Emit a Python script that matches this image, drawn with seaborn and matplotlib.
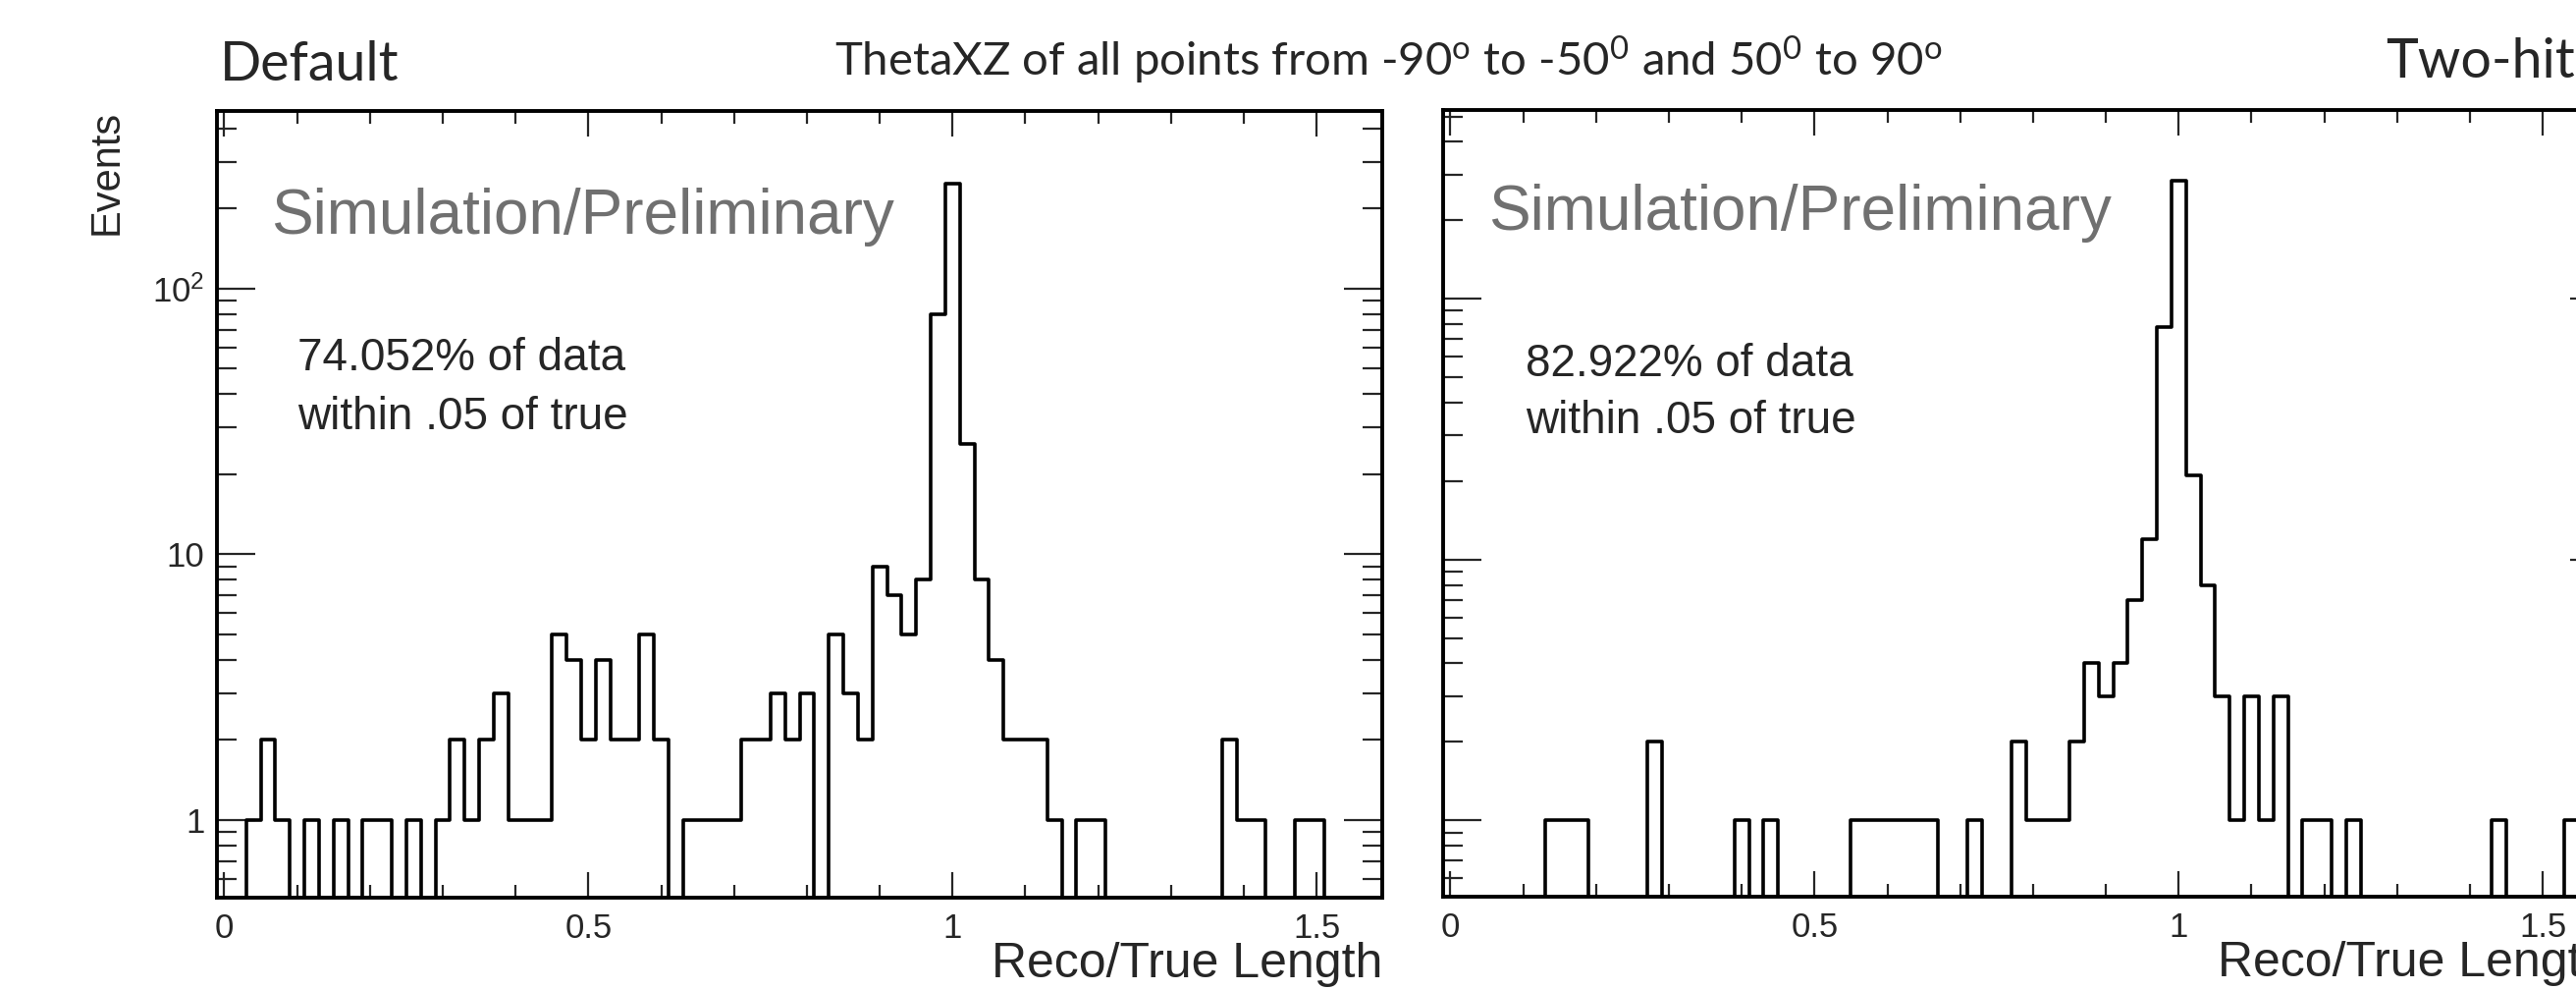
"""Reco/True length ratio, Default vs Two-hit, ThetaXZ 50-90 deg."""
import numpy as np
import matplotlib
matplotlib.use('Agg')
import matplotlib.pyplot as plt
import matplotlib.ticker as mticker
import seaborn as sns

# histogram binning: 80 bins of 0.02 from -0.01 to 1.59 (centres 0.00 ... 1.58)
bin_lo, bin_hi, n_bins = -0.01, 1.59, 80

default_counts = [
    0, 0, 1, 2, 1, 0, 1, 0, 1, 0,      # 0.00 - 0.18
    1, 1, 0, 1, 0, 1, 2, 1, 2, 3,      # 0.20 - 0.38
    1, 1, 1, 5, 4, 2, 4, 2, 2, 5,      # 0.40 - 0.58
    2, 0, 1, 1, 1, 1, 2, 2, 3, 2,      # 0.60 - 0.78
    3, 0, 5, 3, 2, 9, 7, 5, 8, 80,     # 0.80 - 0.98
    248, 26, 8, 4, 2, 2, 2, 1, 0, 1,   # 1.00 - 1.18
    1, 0, 0, 0, 0, 0, 0, 0, 0, 2,      # 1.20 - 1.38
    1, 1, 0, 0, 1, 1, 0, 0, 0, 0,      # 1.40 - 1.58
]
twohit_counts = [
    0, 0, 0, 0, 0, 0, 0, 1, 1, 1,      # 0.00 - 0.18
    0, 0, 0, 0, 2, 0, 0, 0, 0, 0,      # 0.20 - 0.38
    1, 0, 1, 0, 0, 0, 0, 0, 1, 1,      # 0.40 - 0.58
    1, 1, 1, 1, 0, 0, 1, 0, 0, 2,      # 0.60 - 0.78
    1, 1, 1, 2, 4, 3, 4, 7, 12, 78,    # 0.80 - 0.98
    285, 21, 8, 3, 1, 3, 1, 3, 0, 1,   # 1.00 - 1.18
    1, 0, 1, 0, 0, 0, 0, 0, 0, 0,      # 1.20 - 1.38
    0, 0, 1, 0, 0, 0, 0, 1, 0, 0,      # 1.40 - 1.58
]
panel_names = ['Default', 'Two-hit']
within_text = ['74.052% of data', '82.922% of data']
y_max = [465, 530]
y_min = 0.51

bin_w = (bin_hi - bin_lo) / n_bins
centres = bin_lo + bin_w * (np.arange(n_bins) + 0.5)

sns.set_style('ticks')
plt.rcParams['font.family'] = ['Liberation Sans', 'DejaVu Sans']

W, H = 2624, 1008
fig = plt.figure(figsize=(W / 100, H / 100), dpi=100)
fig.patch.set_facecolor('white')

def fx(px):
    return px / W

def fy(py):
    return 1 - py / H

# axes boxes in pixels (left, top, right, bottom) - right panel runs off the slide
boxes = [(221, 113, 1408, 914), (1470, 112, 2657, 913)]

for i, (counts, box) in enumerate(zip([default_counts, twohit_counts], boxes)):
    l, t, r, b = box
    ax = fig.add_axes([fx(l), fy(b), fx(r - l), (b - t) / H])
    sns.histplot(x=centres, weights=counts, bins=n_bins, binrange=(bin_lo, bin_hi),
                 element='step', fill=False, color='black', linewidth=2.6, ax=ax)
    ax.set_yscale('log', nonpositive='clip')
    ax.set_xlim(bin_lo, bin_hi)
    ax.set_ylim(y_min, y_max[i])
    ax.set_xlabel(''); ax.set_ylabel('')

    ax.xaxis.set_major_locator(mticker.MultipleLocator(0.5))
    ax.xaxis.set_minor_locator(mticker.MultipleLocator(0.1))
    ax.xaxis.set_major_formatter(mticker.FuncFormatter(lambda v, p: '%g' % v))
    ax.yaxis.set_major_locator(mticker.FixedLocator([1, 10, 100]))
    ax.yaxis.set_major_formatter(mticker.FixedFormatter(['1', '10', r'$\mathregular{10^{2}}$']))
    ax.yaxis.set_minor_locator(mticker.LogLocator(base=10, subs=np.arange(2, 10)))
    ax.yaxis.set_minor_formatter(mticker.NullFormatter())

    ax.tick_params(axis='x', which='major', length=19, width=1.6, direction='in',
                   top=True, bottom=True, pad=11, labelsize=25)
    ax.tick_params(axis='x', which='minor', length=9.5, width=1.6, direction='in',
                   top=True, bottom=True)
    ax.tick_params(axis='y', which='major', length=28, width=1.6, direction='in',
                   left=True, right=True, pad=9, labelsize=25)
    ax.tick_params(axis='y', which='minor', length=14.5, width=1.6, direction='in',
                   left=True, right=True)
    if i == 1:
        ax.tick_params(axis='y', labelleft=False)
    for s in ax.spines.values():
        s.set_linewidth(2.8); s.set_color('black')

    ax.text(1.0, -(995 - 914) / (b - t), 'Reco/True Length', transform=ax.transAxes,
            ha='right', va='baseline', fontsize=36, clip_on=False)

# in-frame labels
fig.text(fx(276), fy(238), 'Simulation/Preliminary', fontsize=46, color='#707070', va='baseline')
fig.text(fx(1516), fy(234), 'Simulation/Preliminary', fontsize=46, color='#707070', va='baseline')
fig.text(fx(303), fy(377), within_text[0], fontsize=33, va='baseline')
fig.text(fx(303), fy(437), 'within .05 of true', fontsize=33, va='baseline')
fig.text(fx(1554), fy(383), within_text[1], fontsize=33, va='baseline')
fig.text(fx(1554), fy(441), 'within .05 of true', fontsize=33, va='baseline')

fig.text(fx(109), fy(112), 'Events', rotation=90, ha='center', va='top', fontsize=30)

# slide titles
title = (r'ThetaXZ of all points from -90$\mathregular{^{o}}$ to -50$\mathregular{^{0}}$'
         r' and 50$\mathregular{^{0}}$ to 90$\mathregular{^{o}}$')
fig.text(fx(224), fy(82), panel_names[0], family='Lato', fontsize=40, va='baseline')
fig.text(fx(850), fy(77), title, family='Lato', fontsize=34, va='baseline')
fig.text(fx(2430), fy(79), panel_names[1], family='Lato', fontsize=40, va='baseline')

plt.savefig('out.png', dpi=100, facecolor='white')
plt.close()
